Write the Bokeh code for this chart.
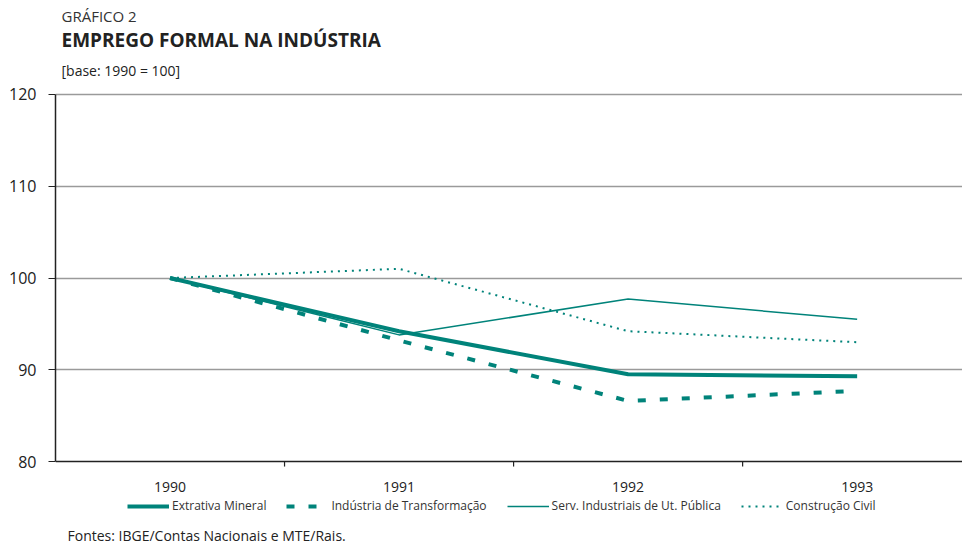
from bokeh.plotting import figure
from bokeh.models import (FixedTicker, Legend, LegendItem, Range1d, Grid)
from bokeh.core.properties import value
from bokeh.embed import file_html
from bokeh.resources import INLINE

years = ["1990", "1991", "1992", "1993"]
extrativa = [100.0, 94.2, 89.5, 89.3]
transformacao = [100.0, 93.2, 86.6, 87.7]
servicos = [100.0, 93.8, 97.7, 95.5]
construcao = [100.0, 101.0, 94.2, 93.0]
y_ticks = [80, 90, 100, 110, 120]
chart_number = "GRÁFICO 2"
chart_title = "EMPREGO FORMAL NA INDÚSTRIA"
chart_subtitle = "[base: 1990 = 100]"
source_note = "Fontes: IBGE/Contas Nacionais e MTE/Rais."

TEAL = "#00837a"
DARK = "#222222"
FONT = "Open Sans"
x = list(range(len(years)))
boundaries = [i + 0.5 for i in x[:-1]]
y_min, y_max = y_ticks[0], y_ticks[-1]

# frame covers the whole canvas; the data area (80-120) sits in it,
# title block above and legend / source note below are drawn inside it.
p = figure(width=962, height=544, output_backend="svg", toolbar_location=None,
           x_range=Range1d(-0.5, 3.46), y_range=Range1d(70.954, 130.245),
           x_axis_location=None,
           min_border_left=55, min_border_right=0, min_border_top=0, min_border_bottom=0)
p.title.visible = False
p.outline_line_color = None
p.background_fill_color = "white"

# grid
p.xgrid.grid_line_color = None
p.ygrid.ticker = FixedTicker(ticks=y_ticks[1:])
p.ygrid.grid_line_color = "#9a9a9a"
p.ygrid.grid_line_width = 1.5
base_line = Grid(dimension=1, ticker=FixedTicker(ticks=[y_min]),
                 grid_line_color=DARK, grid_line_width=1.5)
p.add_layout(base_line)

r1 = p.line(x, extrativa, line_color=TEAL, line_width=4)
r2 = p.line(x, transformacao, line_color=TEAL, line_width=4, line_dash="8 14")
r3 = p.line(x, servicos, line_color=TEAL, line_width=1.5)
r4 = p.line(x, construcao, line_color=TEAL, line_width=2, line_dash="2 5")

# x "axis": tick marks between categories and year labels
p.segment(x0=boundaries, y0=[y_min] * 3, x1=boundaries, y1=[y_min - 0.55] * 3,
          line_color=DARK, line_width=1.2)
p.text(x=x, y=[y_min] * 4, text=years, y_offset=20, text_align="center",
       text_baseline="top", text_font=value(FONT), text_font_size="14px",
       text_color=DARK)
p.text(x=[-0.5], y=[y_min], text=[source_note], x_offset=12, y_offset=74,
       text_align="left", text_baseline="middle", text_font=value(FONT),
       text_font_size="14px", text_color=DARK)

# title block
p.text(x=[-0.5], y=[y_max], text=[chart_number], x_offset=6, y_offset=-78,
       text_align="left", text_baseline="alphabetic", text_font=value(FONT),
       text_font_size="15px", text_color="#333333")
p.text(x=[-0.5], y=[y_max], text=[chart_title], x_offset=6, y_offset=-54,
       text_align="left", text_baseline="alphabetic", text_font=value(FONT),
       text_font_size="19px", text_font_style="bold", text_color=DARK)
p.text(x=[-0.5], y=[y_max], text=[chart_subtitle], x_offset=6, y_offset=-24,
       text_align="left", text_baseline="alphabetic", text_font=value(FONT),
       text_font_size="14px", text_color=DARK)

# y axis
p.yaxis.ticker = FixedTicker(ticks=y_ticks)
p.yaxis.bounds = (y_min, y_max)
p.yaxis.minor_tick_line_color = None
p.yaxis.major_tick_out = 7
p.yaxis.major_tick_in = 0
p.yaxis.major_tick_line_color = DARK
p.yaxis.axis_line_color = DARK
p.yaxis.axis_line_width = 1.5
p.yaxis.major_label_standoff = 12
p.yaxis.major_label_text_font = FONT
p.yaxis.major_label_text_font_size = "16px"
p.yaxis.major_label_text_color = DARK

legend = Legend(items=[
    LegendItem(label="Extrativa Mineral", renderers=[r1]),
    LegendItem(label="Indústria de Transformação", renderers=[r2]),
    LegendItem(label="Serv. Industriais de Ut. Pública", renderers=[r3]),
    LegendItem(label="Construção Civil", renderers=[r4]),
], orientation="horizontal", location=(72, 30))
legend.label_text_font = FONT
legend.label_text_font_size = "12px"
legend.label_text_color = "#333333"
legend.glyph_width = 42
legend.glyph_height = 12
legend.label_standoff = 3
legend.spacing = 20
legend.padding = 0
legend.margin = 0
legend.border_line_color = None
legend.background_fill_alpha = 0
p.add_layout(legend)

open("out.html", "w").write(file_html(p, INLINE))
